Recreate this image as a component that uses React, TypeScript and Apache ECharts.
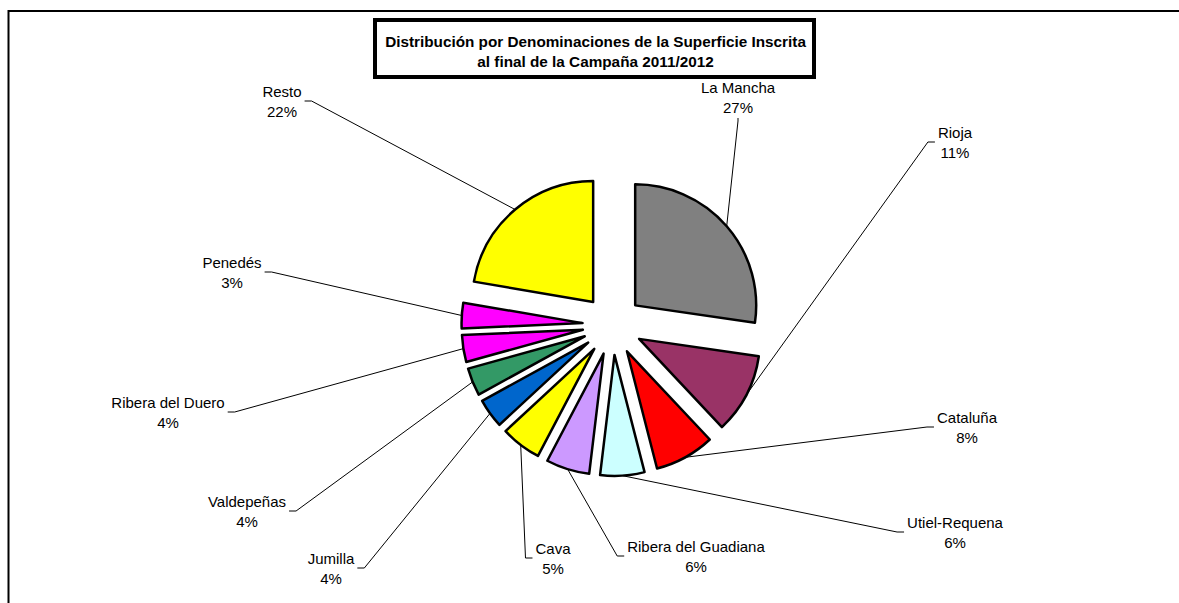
import React, { useEffect, useRef } from "react";
import * as echarts from "echarts";

const categories = [
  "La Mancha",
  "Rioja",
  "Cataluña",
  "Utiel-Requena",
  "Ribera del Guadiana",
  "Cava",
  "Jumilla",
  "Valdepeñas",
  "Ribera del Duero",
  "Penedés",
  "Resto",
];
const shares = [27.3, 10.7, 8.0, 5.9, 5.8, 5.4, 3.9, 3.7, 3.6, 3.4, 22.3];
const sliceColors = [
  "#808080",
  "#993366",
  "#FF0000",
  "#CCFFFF",
  "#CC99FF",
  "#FFFF00",
  "#0066CC",
  "#339966",
  "#FF00FF",
  "#FF00FF",
  "#FFFF00",
];
// label block centres (layout only)
const labelPos: [number, number][] = [
  [738, 97],
  [955, 142],
  [967, 427],
  [955, 532],
  [696, 556],
  [553, 558],
  [331, 568],
  [247, 511],
  [168, 412],
  [232, 272],
  [282, 101],
];

const FONT = "'Liberation Sans', Arial, sans-serif";
const CENTER: [number, number] = [612.5, 325];
const RADIUS = 121;
const EXPLODE = 30;

export default function App() {
  const ref = useRef<HTMLDivElement>(null);
  useEffect(() => {
    if (!ref.current) return;
    const chart = echarts.init(ref.current, undefined, { renderer: "svg" });
    chart.setOption({
      animation: false,
      backgroundColor: "#ffffff",
      graphic: [
        {
          type: "rect",
          shape: { x: 8.5, y: 11, width: 1400, height: 800 },
          style: { fill: "none", stroke: "#000", lineWidth: 2 },
          silent: true,
          z: 1,
        },
        {
          type: "rect",
          shape: { x: 375, y: 20, width: 439, height: 57 },
          style: { fill: "#fff", stroke: "#000", lineWidth: 4 },
          silent: true,
          z: 2,
        },
        {
          type: "text",
          x: 595.5,
          y: 51,
          style: {
            text: "Distribución por Denominaciones de la Superficie Inscrita\nal final de la Campaña 2011/2012",
            align: "center",
            verticalAlign: "middle",
            font: `bold 15.3px ${FONT}`,
            lineHeight: 20,
            fill: "#000",
          },
          silent: true,
          z: 3,
        },
      ],
      series: [
        {
          // label carrier: transparent ring spanning the exploded slices' reach
          type: "pie",
          z: 1,
          silent: true,
          center: CENTER,
          radius: [EXPLODE, RADIUS + EXPLODE],
          startAngle: 90,
          clockwise: true,
          avoidLabelOverlap: false,
          emphasis: { disabled: true },
          itemStyle: { color: "rgba(0,0,0,0)", borderWidth: 0 },
          label: {
            show: true,
            position: "outside",
            alignTo: "none",
            color: "#000",
            fontFamily: FONT,
            fontSize: 15,
            lineHeight: 20,
            align: "center",
            padding: [0, 3],
            formatter: (p: any) => `${p.name}\n${Math.round(p.percent)}%`,
          },
          labelLine: {
            show: true,
            length: 20,
            length2: 7,
            smooth: false,
            lineStyle: { color: "#000", width: 1 },
          },
          labelLayout: (params: any) => {
            const [lx, ly] = labelPos[params.dataIndex];
            const res: any = {
              x: lx,
              y: ly,
              align: "center",
              verticalAlign: "middle",
            };
            const pts = params.labelLinePoints;
            const rect = params.labelRect;
            if (pts && pts.length && rect) {
              const a = pts[0];
              const w = rect.width;
              const h = rect.height;
              const left = lx - w / 2;
              const right = lx + w / 2;
              const top = ly - h / 2;
              const bottom = ly + h / 2;
              let end: number[];
              let bend: number[];
              if (a[0] < left) {
                end = [left, ly];
                bend = [left - 7, ly];
              } else if (a[0] > right) {
                end = [right, ly];
                bend = [right + 7, ly];
              } else if (a[1] > bottom) {
                end = [lx, bottom + 1];
                bend = [lx, bottom + 4];
              } else {
                end = [lx, top - 1];
                bend = [lx, top - 4];
              }
              res.labelLinePoints = [[a[0], a[1]], bend, end];
            }
            return res;
          },
          data: categories.map((name, i) => ({ name, value: shares[i] })),
        },
        {
          type: "pie",
          z: 2,
          center: CENTER,
          radius: RADIUS,
          startAngle: 90,
          clockwise: true,
          selectedMode: "multiple",
          selectedOffset: EXPLODE,
          emphasis: { disabled: true },
          itemStyle: { borderColor: "#000", borderWidth: 2.5 },
          select: { itemStyle: { borderColor: "#000", borderWidth: 2.5 } },
          label: { show: false },
          labelLine: { show: false },
          data: categories.map((name, i) => ({
            name,
            value: shares[i],
            selected: true,
            itemStyle: { color: sliceColors[i] },
          })),
        },
      ],
    });
    return () => chart.dispose();
  }, []);
  return (
    <div
      ref={ref}
      style={{ position: "fixed", left: 0, top: 0, width: 1179, height: 603 }}
    />
  );
}
